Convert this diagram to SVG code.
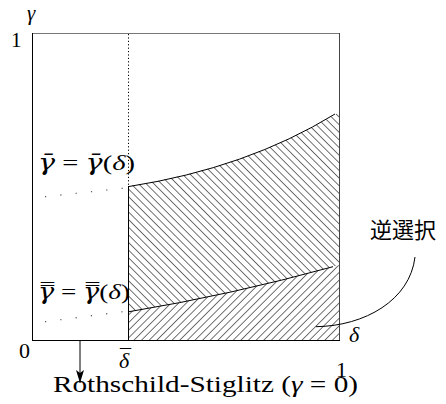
<svg xmlns="http://www.w3.org/2000/svg" width="446" height="404" viewBox="0 0 446 404">
<style>
.m{font-family:"Liberation Serif","DejaVu Serif",serif;fill:#000}
.i{font-style:italic}
.g{font-family:"DejaVu Serif",serif;font-style:italic}
.ln{stroke:#000;stroke-width:1;fill:none}
.dot{stroke:#555;stroke-width:1.2;fill:none;stroke-dasharray:1.2 14.2}
</style>
<defs>
<pattern id="hb" patternUnits="userSpaceOnUse" width="5.4" height="10" patternTransform="rotate(-45)">
<line x1="0" y1="0" x2="0" y2="10" stroke="#000" stroke-width="1.1"/>
</pattern>
<pattern id="hf" patternUnits="userSpaceOnUse" width="5.4" height="10" patternTransform="rotate(45)">
<line x1="0" y1="0" x2="0" y2="10" stroke="#000" stroke-width="1.1"/>
</pattern>
<marker id="ah" markerWidth="14" markerHeight="10" refX="13" refY="5" orient="auto" markerUnits="userSpaceOnUse" viewBox="0 0 14 10">
<path d="M0,1 L13,5 L0,9 L3,5 Z" fill="#000"/>
</marker>
</defs>
<g id="regions">
<path id="upper-region" d="M128.5,186 Q247,168 339.5,112 L339.5,265 Q230,295 128.5,311.7 Z" fill="url(#hb)"/>
<path id="lower-region" d="M128.5,311.7 Q230,295 339.5,265 L339.5,341 L128.5,341 Z" fill="url(#hf)"/>
</g>
<g id="frame">
<line x1="32" y1="33.5" x2="340" y2="33.5" stroke="#777" stroke-width="1.2"/>
<line x1="32.5" y1="33" x2="32.5" y2="341" class="ln"/>
<line x1="339.5" y1="33" x2="339.5" y2="341" stroke="#444" stroke-width="1"/>
<line x1="32" y1="340.5" x2="340" y2="340.5" class="ln"/>
<line x1="128.5" y1="186" x2="128.5" y2="341" class="ln"/>
<line x1="128.5" y1="34" x2="128.5" y2="186" stroke="#000" stroke-width="1" stroke-dasharray="1.2 2.2"/>
</g>
<g id="connectors">
<path id="curve-upper" d="M129,186.5 Q247,168 335,114" class="ln"/>
<path id="curve-lower" d="M129,311.7 Q230,295 333,266.7" class="ln"/>
<line x1="45" y1="196.7" x2="123" y2="188.3" class="dot"/>
<line x1="45" y1="321.7" x2="123" y2="311.7" class="dot"/>
<path id="leader" d="M316,326.7 C365,326 410,300 415,257" class="ln"/>
<line id="rs-arrow" x1="80" y1="341" x2="80" y2="383" class="ln" marker-end="url(#ah)"/>
</g>
<g id="labels">
<text x="11" y="47" class="m" font-size="21">1</text>
<text x="27" y="20" class="m i" font-size="21">γ</text>
<text x="38" y="169.5" class="m" font-size="22" textLength="97" lengthAdjust="spacingAndGlyphs"><tspan class="g">γ̄</tspan> = <tspan class="g">γ̄</tspan>(<tspan class="i">δ</tspan>)</text>
<text x="38" y="298.5" class="m" font-size="22" textLength="92" lengthAdjust="spacingAndGlyphs"><tspan class="g">γ̿</tspan> = <tspan class="g">γ̿</tspan>(<tspan class="i">δ</tspan>)</text>
<text x="19" y="357.5" class="m" font-size="22">0</text>
<text x="119" y="368" class="m" font-size="22"><tspan class="i">δ</tspan><tspan x="120" y="364">¯</tspan></text>
<text x="349" y="342" class="m i" font-size="22">δ</text>
<text x="336" y="377" class="m" font-size="22">1</text>
<text x="53" y="392" class="m" font-size="24" textLength="305" lengthAdjust="spacingAndGlyphs">Rothschild-Stiglitz (<tspan class="i">γ</tspan> = 0)</text>
<text x="370" y="238" font-family="'Noto Sans CJK JP','Noto Sans CJK SC',sans-serif" font-size="22">逆選択</text>
</g>
</svg>
